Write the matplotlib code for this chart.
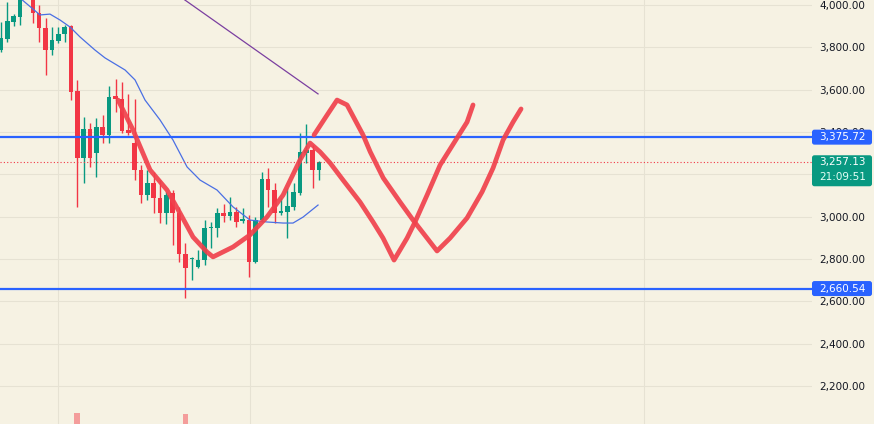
import matplotlib
matplotlib.use('Agg')
import numpy as np
import matplotlib.pyplot as plt
from matplotlib.patches import FancyBboxPatch
from matplotlib.transforms import blended_transform_factory

# daily candles
opens = [3787, 3839, 3920, 3943, 4047, 4061, 3962, 3891, 3787, 3830,
         3863, 3901, 3594, 3277, 3414, 3301, 3424, 3386, 3570, 3556,
         3410, 3348, 3221, 3102, 3159, 3088, 3017, 3112, 3017, 2824,
         2800, 2762, 2795, 2947, 2947, 3017, 3003, 3022, 2980, 2984,
         2786, 2984, 3178, 3126, 3017, 3022, 3046, 3112, 3301, 3315,
         3221]
highs = [3920, 4014, 3958, 4094, 4110, 4080, 4000, 3939, 3896, 3896,
         3906, 3906, 3646, 3471, 3443, 3466, 3480, 3617, 3650, 3636,
         3580, 3556, 3244, 3221, 3211, 3173, 3117, 3126, 3046, 2876,
         2810, 2843, 2984, 2975, 3041, 3060, 3093, 3046, 3041, 3008,
         2999, 3211, 3230, 3159, 3088, 3136, 3159, 3395, 3438, 3339,
         3263]
lows = [3778, 3825, 3901, 3906, 4030, 3915, 3825, 3669, 3764, 3821,
        3825, 3551, 3046, 3159, 3235, 3188, 3348, 3348, 3495, 3395,
        3386, 3173, 3065, 3079, 3019, 2971, 2967, 2866, 2786, 2616,
        2701, 2758, 2772, 2852, 2904, 2975, 2984, 2951, 2970, 2715,
        2781, 2975, 3046, 2970, 3008, 2899, 3032, 3102, 3254, 3136,
        3173]
closes = [3844, 3924, 3948, 4047, 4080, 3962, 3891, 3787, 3835, 3863,
          3896, 3589, 3277, 3414, 3277, 3424, 3386, 3565, 3556, 3405,
          3395, 3221, 3102, 3159, 3088, 3017, 3102, 3017, 2824, 2758,
          2805, 2795, 2947, 2951, 3017, 3003, 3022, 2975, 2989, 2786,
          2984, 3178, 3126, 3017, 3027, 3051, 3117, 3306, 3315, 3221,
          3257.13]
volumes = [55, 60, 40, 65, 50, 62, 48, 70, 45, 38,
           42, 72, 100, 75, 58, 60, 45, 66, 52, 57,
           44, 63, 55, 40, 50, 58, 47, 60, 74, 99,
           62, 45, 66, 40, 48, 38, 42, 45, 36, 70,
           64, 72, 55, 50, 38, 52, 45, 73, 60, 48,
           30]

# moving average
ma_x = [2.5, 6.13, 7.70, 9.28, 10.85, 12.42, 14.78, 16.35, 19.50, 21.07,
        22.64, 25.0, 27.04, 29.25, 31.29, 33.96, 36.48, 39.15, 41.82, 44.34,
        45.91, 47.48, 49.84]
ma_y = [4045, 3953, 3957, 3929, 3896, 3849, 3787, 3750, 3693, 3646,
        3551, 3457, 3362, 3235, 3173, 3126, 3046, 2984, 2975, 2970,
        2970, 2998, 3055]

# purple trend line
trend_x = [28.7, 49.84]
trend_y = [4028, 3580]

# hand drawn red paths
path1_x = [18.40, 20.75, 23.43, 26.10, 28.14, 30.19, 32.39, 33.33, 36.48, 39.15,
           41.82, 44.34, 47.01, 48.58, 50.16, 51.73, 53.77, 56.45, 58.49, 60.06,
           61.79, 63.84, 65.09, 66.98, 69.03, 71.70, 73.27, 74.21]
path1_y = [3551, 3410, 3221, 3126, 3017, 2904, 2833, 2810, 2857, 2914,
           2999, 3102, 3268, 3348, 3306, 3254, 3173, 3069, 2975, 2899,
           2795, 2899, 2975, 3102, 3244, 3372, 3447, 3528]
path2_x = [49.21, 51.26, 52.83, 54.40, 56.92, 58.05, 60.09, 62.74, 64.78, 66.98,
           68.55, 70.60, 73.27, 75.63, 77.36, 78.93, 80.50, 81.76]
path2_y = [3386, 3480, 3551, 3528, 3386, 3306, 3183, 3069, 2984, 2899,
           2838, 2899, 2994, 3117, 3230, 3362, 3447, 3509]

levels = [3375.72, 2660.54]
last_price = 3257.13
last_time = '21:09:51'
price_ticks = [2200, 2400, 2600, 2800, 3000, 3200, 3400, 3600, 3800, 4000]
hidden_ticks = [3200]   # covered by the last price badge

bg = '#f6f2e3'
up_col = '#089981'
down_col = '#f23645'
blue = '#2962ff'

fig = plt.figure(figsize=(8.74, 4.24), dpi=100)
fig.patch.set_facecolor(bg)
ax = fig.add_axes([0, 0, 812 / 874, 1])
ax.set_facecolor(bg)
ax.set_xlim(-0.16, 127.5)
ax.set_ylim(2020.7, 4023.6)

# grid
ax.set_xticks([8.96, 39.15, 101.1])
ax.set_yticks(price_ticks)
ax.set_yticklabels(['' if v in hidden_ticks else '{:,.2f}'.format(v) for v in price_ticks])
ax.grid(True, color='#e6e2d3', lw=0.8)
ax.set_axisbelow(True)
ax.yaxis.tick_right()
ax.tick_params(axis='y', length=0, pad=5.5, labelsize=7.5, labelcolor='#131722')
ax.tick_params(axis='x', length=0, labelbottom=False)
for s in ax.spines.values():
    s.set_visible(False)

# candles
x = np.arange(len(opens))
o = np.array(opens, dtype=float)
c = np.array(closes, dtype=float)
cols = [up_col if cc >= oo else down_col for oo, cc in zip(o, c)]
ax.vlines(x, lows, highs, colors=cols, lw=1.0, zorder=2)
ax.bar(x, np.maximum(np.abs(c - o), 5), bottom=np.minimum(o, c), width=0.72,
       color=cols, zorder=2)

# volume pane (cut off at the bottom of the screenshot)
axv = fig.add_axes([0, -0.1, 812 / 874, 0.126])
axv.set_xlim(ax.get_xlim())
axv.set_ylim(0, max(volumes))
axv.bar(x, volumes, width=0.9, color=cols, alpha=0.45)
axv.axis('off')

# moving average and trend line
ax.plot(ma_x, ma_y, color='#4a6fe3', lw=0.9, zorder=3)
ax.plot(trend_x, trend_y, color='#7b3fa0', lw=0.9, zorder=3)

# level lines
for lv in levels:
    ax.axhline(lv, color=blue, lw=1.6, zorder=4)
ax.axhline(last_price, color=down_col, lw=0.8, ls=(0, (1, 2)), zorder=3)

# hand drawn paths
for px, py in [(path1_x, path1_y), (path2_x, path2_y)]:
    ax.plot(px, py, color='#f0414c', lw=3.4, alpha=0.92, solid_capstyle='round',
            solid_joinstyle='round', zorder=5)

# price scale labels
tr = blended_transform_factory(ax.transAxes, ax.transData)
bw = 60 / 812
px_per_unit = 424 / (4023.6 - 2020.7)
for lv in levels:
    h = 15 / px_per_unit
    box = FancyBboxPatch((1.0, lv - h / 2), bw, h, transform=tr, clip_on=False,
                         boxstyle='round,pad=0,rounding_size=0.003',
                         mutation_aspect=(1 / px_per_unit) / (1 / 812),
                         fc=blue, ec='none', zorder=10)
    ax.add_patch(box)
    ax.text(1.0 + 7 / 812, lv, '{:,.2f}'.format(lv), transform=tr, clip_on=False,
            ha='left', va='center', color='white', fontsize=7.5, zorder=11)

h = 31 / px_per_unit
top = last_price + 7 / px_per_unit
box = FancyBboxPatch((1.0, top - h), bw, h, transform=tr, clip_on=False,
                     boxstyle='round,pad=0,rounding_size=0.003',
                     mutation_aspect=(1 / px_per_unit) / (1 / 812),
                     fc=up_col, ec='none', zorder=10)
ax.add_patch(box)
ax.text(1.0 + 7 / 812, last_price, '{:,.2f}'.format(last_price), transform=tr,
        clip_on=False, ha='left', va='center', color='white', fontsize=7.5, zorder=11)
ax.text(1.0 + 7 / 812, last_price - 15 / px_per_unit, last_time, transform=tr,
        clip_on=False, ha='left', va='center', color='#e6fff6', fontsize=7.5, zorder=11)

fig.savefig('out.png', dpi=100, facecolor=bg)
